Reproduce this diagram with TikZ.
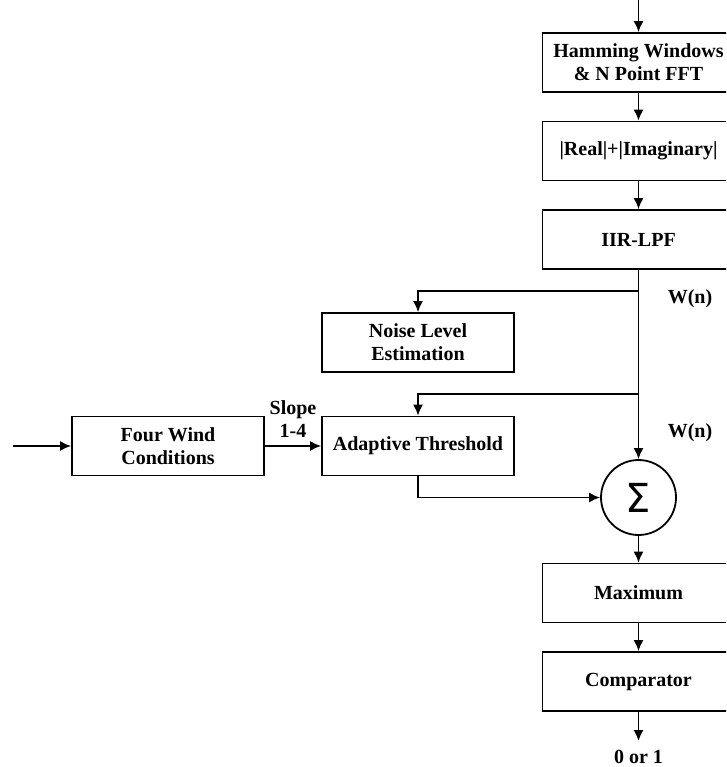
\documentclass[tikz,border=0pt]{standalone}
\usepackage{fontspec}
\setmainfont{Liberation Serif}
\newfontfamily\sigmafont{DejaVu Sans}
\usetikzlibrary{arrows.meta,shapes}

\begin{document}
\begin{tikzpicture}[x=1pt,y=-1pt]
\tikzstyle{block}=[rectangle, draw=black, line width=1.8pt, minimum width=192pt, minimum height=59pt, align=center, font=\fontsize{20}{23}\selectfont\bfseries, node distance=88.5pt, inner sep=2pt]
\tikzstyle{sumnode}=[circle, draw=black, line width=1.8pt, minimum size=75pt, inner sep=0pt]
\tikzstyle{lbl}=[align=center, font=\fontsize{20}{23}\selectfont\bfseries, inner sep=1pt]
\tikzstyle{connect}=[-{Latex[length=11pt,width=10pt]}, line width=1.6pt]

\clip (0,0) rectangle (726,767);

  % main column
  \node[block] (hamming) at (638.5,62.5)  {Hamming Windows\\\& N Point FFT};
  \node[block] (absval)  [below of =hamming] {|Real|+|Imaginary|};
  \node[block] (lpf)     [below of =absval]  {IIR-LPF};
  \node[sumnode] (sum)   at (638.5,497.5) {\sigmafont\fontsize{40}{40}\selectfont Σ};
  \node[block] (maxim)   at (638.5,593)   {Maximum};
  \node[block] (comp)    [below of =maxim]   {Comparator};

  % side branch
  \node[block] (noise)   at (418,342.5)   {Noise Level\\Estimation};
  \node[block] (adapt)   at (418,446)     {Adaptive Threshold};
  \node[block] (wind)    at (168,446)     {Four Wind\\Conditions};

  \node[lbl] (wn1)    at (690,299) {W(n)};
  \node[lbl] (wn2)    at (690,433) {W(n)};
  \node[lbl] (result) at (638.5,757) {0 or 1};

  \coordinate (top)   at (638.5,0);
  \coordinate (tap1)  at (638.5,291);
  \coordinate (tap2)  at (638.5,394);
  \coordinate (input) at (13,446);
  \coordinate (out)   at (638.5,741);

  \draw[connect] (top) -- (hamming);
  \draw[connect] (hamming) -- (absval);
  \draw[connect] (absval) -- (lpf);
  \draw[connect] (lpf) -- (sum);
  \draw[connect] (tap1) -| (noise);
  \draw[connect] (tap2) -| (adapt);
  \draw[connect] (adapt.south) |- (sum.west);
  \draw[connect] (input) -- (wind);
  \draw[connect] (wind) -- node[lbl, above=7pt] {Slope\\1-4} (adapt);
  \draw[connect] (sum) -- (maxim);
  \draw[connect] (maxim) -- (comp);
  \draw[connect] (comp) -- (out);

\end{tikzpicture}
\end{document}
